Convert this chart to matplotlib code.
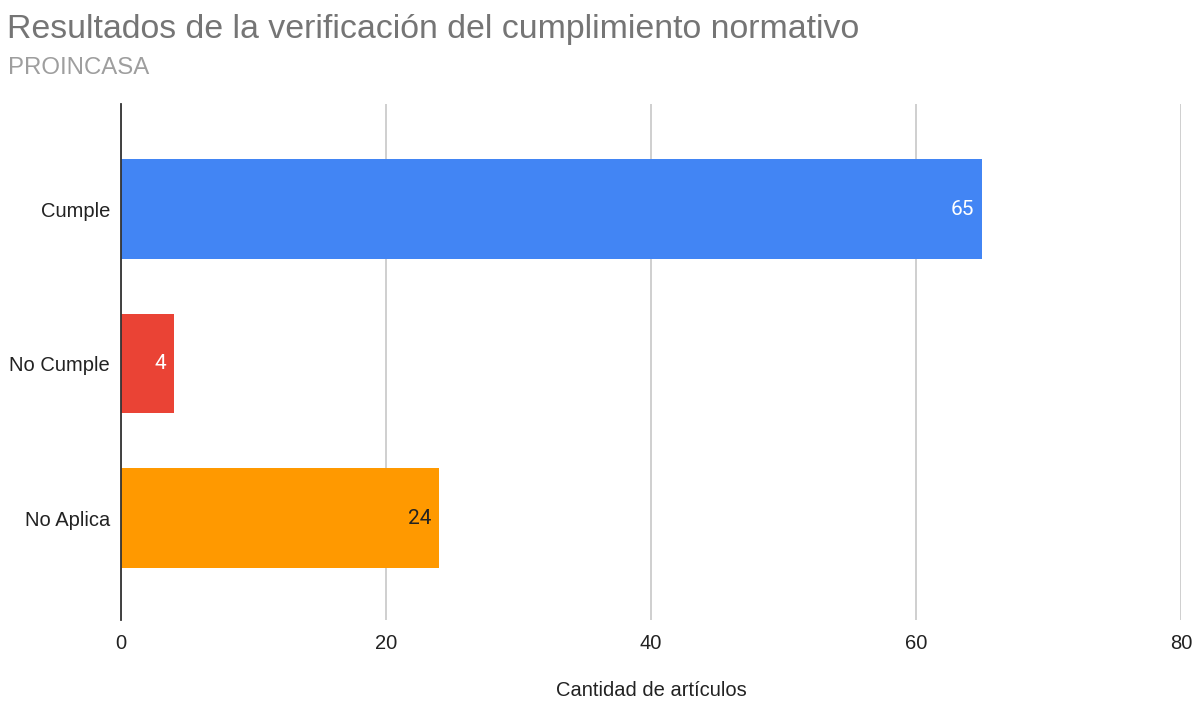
import matplotlib.pyplot as plt

categorias = ["Cumple", "No Cumple", "No Aplica"]
cantidades = [65, 4, 24]
colores = ["#4285F4", "#EA4335", "#FF9900"]
color_etiqueta = ["white", "white", "#222222"]
ticks_x = [0, 20, 40, 60, 80]

plt.rcParams["font.family"] = ["Liberation Sans", "DejaVu Sans"]

fig = plt.figure(figsize=(11.98, 7.04), dpi=100)
ax = fig.add_axes([0.101, 0.1193, 0.8848, 0.733])

pos = list(range(len(categorias)))
barras = ax.barh(pos, cantidades, height=0.645, color=colores, zorder=3)

for b, v, c in zip(barras, cantidades, color_etiqueta):
    ax.text(b.get_width() - 0.6, b.get_y() + b.get_height() / 2, str(v),
            ha="right", va="center", fontsize=15, color=c,
            family=["Roboto", "DejaVu Sans"], zorder=4)

ax.set_xlim(0, 80)
ax.set_ylim(2.66, -0.68)
ax.set_xticks(ticks_x)
ax.set_yticks(pos)
ax.set_yticklabels(categorias)
ax.tick_params(axis="both", length=0, labelsize=14.5, colors="#222222")
ax.tick_params(axis="x", pad=10)
ax.tick_params(axis="y", pad=8)
ax.grid(axis="x", color="#cccccc", linewidth=1.3, zorder=0)

for s in ["top", "right", "bottom"]:
    ax.spines[s].set_visible(False)
ax.spines["left"].set_color("#333333")
ax.spines["left"].set_linewidth(1.3)
ax.spines["left"].set_zorder(5)

ax.set_xlabel("Cantidad de artículos", fontsize=14.5, color="#222222", labelpad=20)

fig.text(0.006, 0.958, "Resultados de la verificación del cumplimiento normativo",
         fontsize=24.4, color="#757575", ha="left", va="center")
fig.text(0.007, 0.903, "PROINCASA", fontsize=17.3, color="#9e9e9e",
         ha="left", va="center")

fig.savefig("out.png", dpi=100)
